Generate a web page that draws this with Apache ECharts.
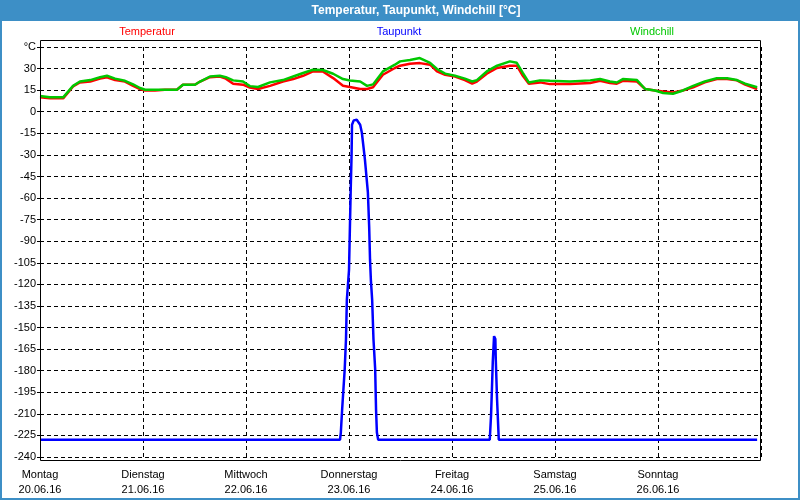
<!DOCTYPE html>
<html><head><meta charset="utf-8">
<script src="https://cdn.jsdelivr.net/npm/echarts@6/dist/echarts.min.js"></script>
<style>html,body{margin:0;padding:0;background:#fff}#c{width:800px;height:500px}</style>
</head><body><div id="c"></div>
<script>
const chartTitle = 'Temperatur, Taupunkt, Windchill [°C]';
const seriesNames = ['Temperatur', 'Taupunkt', 'Windchill'];
const seriesColors = ['#ff0000', '#0000ff', '#00c800'];
const dayNames = ['Montag', 'Dienstag', 'Mittwoch', 'Donnerstag', 'Freitag', 'Samstag', 'Sonntag'];
const dayDates = ['20.06.16', '21.06.16', '22.06.16', '23.06.16', '24.06.16', '25.06.16', '26.06.16'];
const yUnit = '°C';

// hours since Monday 00:00
const hours = [0, 2.3, 5.4, 7.7, 9.3, 11.7, 14.0, 15.6, 17.5, 19.8, 21.7, 23.3, 24.5, 26.8, 29.1, 31.9,
  33.3, 36.1, 37.3, 39.6, 41.9, 43.3, 45.0, 47.3, 48.9, 50.8, 53.6, 56.6, 59.0, 61.3, 63.6, 65.9,
  68.3, 70.6, 72.2, 74.6, 76.2, 77.6, 79.9, 82.7, 83.9, 86.2, 88.5, 90.9, 92.5, 94.4, 96.7, 99.0,
  100.7, 101.8, 104.1, 106.5, 109.5, 111.1, 112.5, 113.9, 116.5, 118.8, 123.5, 128.2, 130.5, 132.8,
  134.4, 135.8, 139.1, 141.0, 143.3, 145.2, 147.5, 149.8, 152.2, 154.9, 157.7, 160.1, 162.4, 164.3, 167.1];
const temperatur = [10, 9.3, 9.3, 17.6, 20.4, 21, 23, 24, 22, 21, 18, 15.8, 14.8, 14.8, 15.3, 15.3,
  18.8, 18.8, 21, 24, 24.5, 23, 19.5, 18.8, 16.8, 15.8, 18, 21, 22.7, 25, 28, 28,
  23.4, 18, 17.2, 15.8, 15.8, 17, 25.7, 30.4, 32, 33.4, 33.8, 32.7, 28, 25.7, 24.5, 22,
  19.5, 21, 26.4, 30.4, 32, 32, 25, 19.5, 20.4, 19.2, 19.2, 20, 21.5, 20,
  19.5, 21.5, 21, 15.8, 14.8, 14.1, 13.4, 14.8, 17, 20.4, 22.7, 22.7, 21.8, 18.8, 15.8];
const windchill = [11, 10, 10, 18, 21, 22, 24, 25, 23, 21.5, 19, 16.5, 15.3, 15.3, 15.3, 15.3,
  18.8, 18.8, 21, 24.5, 25, 24, 21.8, 21, 17.8, 17.2, 20.4, 22, 24.5, 26.9, 29.2, 29,
  26.4, 22.7, 21.7, 21, 18, 19, 28, 32.7, 35, 36, 37.3, 34, 29.7, 26.5, 25, 23,
  21, 22, 28, 32, 35, 34, 27, 20.3, 21.8, 21.5, 21, 21.8, 22.7, 21,
  20.3, 22.7, 22, 15.8, 14.8, 13, 12.5, 14.8, 18, 21, 23.3, 23.3, 22, 19.5, 17];

const taupunktHours = [0, 69.9, 70.1, 70.4, 71.0, 71.3, 71.5, 72.0, 72.4, 72.6, 72.7, 73.1, 73.8, 74.6,
  75.0, 75.7, 76.4, 76.7, 76.9, 77.1, 77.4, 77.7, 78.1, 78.3, 78.5, 78.8,
  104.8, 105.1, 105.3, 105.5, 105.8, 106.1, 106.2, 106.5, 106.7, 106.9, 167.1];
const taupunkt = [-228, -228, -223, -207, -179, -158, -131, -110, -54, -30, -9, -6, -5.6, -9,
  -14.6, -33, -56, -80, -103, -117, -131, -158, -179, -207, -223, -228,
  -228, -211, -193, -174, -156, -158, -172, -200, -214, -228, -228];

const pair = (xs, ys) => xs.map((x, i) => [x, ys[i]]);
const font = 'Liberation Sans';

const chart = echarts.init(document.getElementById('c'), null, {renderer: 'canvas'});
const gridLeft = 40, gridRight = 39, gridTop = 47, gridBottom = 43;

const legendX = [147, 399, 652];

chart.setOption({
  animation: false,
  backgroundColor: '#ffffff',
  grid: {left: gridLeft, right: gridRight, top: gridTop, bottom: gridBottom, containLabel: false},
  xAxis: {
    type: 'value', min: 0, max: 168, interval: 24,
    axisLine: {show: false}, axisTick: {show: false},
    splitLine: {show: true, lineStyle: {color: '#000', type: [4, 3], width: 1}},
    axisLabel: {
      fontFamily: font, fontSize: 11, color: '#000', margin: 10, lineHeight: 15,
      formatter: v => { const i = Math.round(v / 24); return i < dayNames.length ? dayNames[i] + '\n' + dayDates[i] : ''; }
    }
  },
  yAxis: {
    type: 'value', min: -240, max: 45, interval: 15,
    axisLine: {show: true, lineStyle: {color: '#000'}},
    axisTick: {show: true, length: 3, lineStyle: {color: '#000'}},
    splitLine: {show: true, lineStyle: {color: '#000', type: [4, 3], width: 1}},
    axisLabel: {
      fontFamily: font, fontSize: 11, color: '#000', margin: 4,
      formatter: v => v === 45 ? yUnit : String(v)
    }
  },
  series: [
    {name: seriesNames[0], type: 'line', data: pair(hours, temperatur), showSymbol: false,
      lineStyle: {color: seriesColors[0], width: 2.5}, itemStyle: {color: seriesColors[0]}},
    {name: seriesNames[1], type: 'line', data: pair(taupunktHours, taupunkt), showSymbol: false,
      lineStyle: {color: seriesColors[1], width: 2.5}, itemStyle: {color: seriesColors[1]}},
    {name: seriesNames[2], type: 'line', data: pair(hours, windchill), showSymbol: false,
      lineStyle: {color: seriesColors[2], width: 2.5}, itemStyle: {color: seriesColors[2]}}
  ],
  graphic: [
    {type: 'rect', shape: {x: 0, y: 0, width: 800, height: 21}, style: {fill: '#3d8fc6'}, z: 10},
    {type: 'rect', shape: {x: 0, y: 0, width: 2, height: 500}, style: {fill: '#3d8fc6'}, z: 10},
    {type: 'rect', shape: {x: 798, y: 0, width: 2, height: 500}, style: {fill: '#3d8fc6'}, z: 10},
    {type: 'rect', shape: {x: 0, y: 498, width: 800, height: 2}, style: {fill: '#3d8fc6'}, z: 10},
    {type: 'text', x: 416, y: 11, z: 11,
      style: {text: chartTitle, fill: '#fff', font: 'bold 12px "Liberation Sans"', align: 'center', verticalAlign: 'middle'}},
    {type: 'rect', shape: {x: 40.5, y: 40.5, width: 720, height: 420}, style: {fill: 'none', stroke: '#000', lineWidth: 1}, z: 10},
    ...seriesNames.map((n, i) => ({type: 'text', x: legendX[i], y: 32, z: 11,
      style: {text: n, fill: seriesColors[i], font: '11px "Liberation Sans"', align: 'center', verticalAlign: 'middle'}}))
  ]
});
</script></body></html>
